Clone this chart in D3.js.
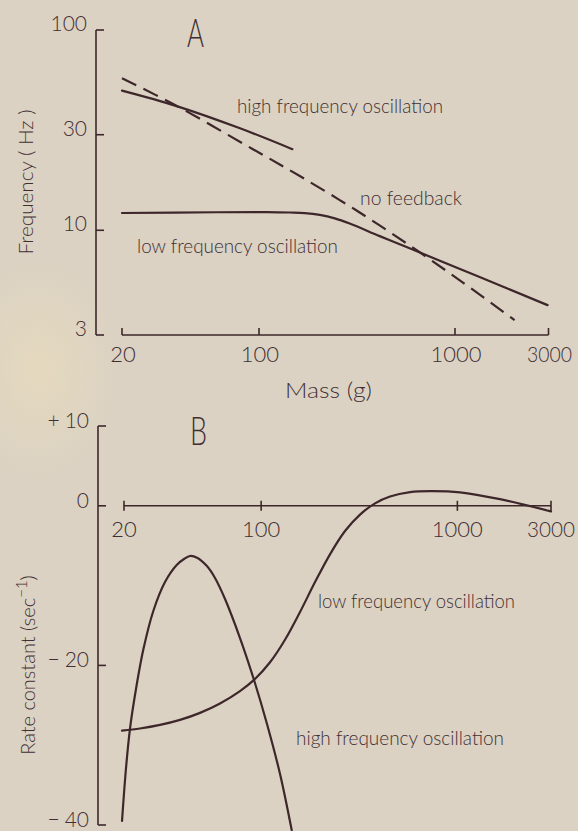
<!DOCTYPE html>
<html>
<head>
<meta charset="utf-8">
<script src="https://cdn.jsdelivr.net/npm/d3@7"></script>
<style>
  html, body { margin: 0; padding: 0; background: #dbd2c3; }
  svg { display: block; }
  text { font-family: 'Lato', 'DejaVu Sans Condensed', sans-serif; font-weight: 300; fill: #3f2f33; }
</style>
</head>
<body>
<svg id="fig" width="578" height="831"></svg>
<script>
// ---- Panel A: oscillation frequency against body mass (log-log) ----
const massTicks = [20, 100, 1000, 3000];
const freqTicks = [3, 10, 30, 100];

const hfMassA = [20, 38, 80, 148];
const hfFreqA = [49.8, 41.7, 32.3, 25.4];

const nfMass = [20, 37.3, 93.1, 161.5, 311.8, 599, 1107, 2014];
const nfFreq = [57.4, 42.2, 25.4, 18.65, 12.62, 8.29, 5.45, 3.56];

const lfMassA = [20, 60, 110, 143.7, 171.3, 204.2, 243.7, 290.4, 413, 608.3, 1336, 2966];
const lfFreqA = [12.2, 12.3, 12.33, 12.27, 12.19, 11.94, 11.47, 10.80, 9.35, 8.01, 5.84, 4.23];

// ---- Panel B: rate constant against body mass ----
const rateTicks = [10, 0, -20, -40];
const rateTickLabels = ["+10", "0", "-20", "-40"];

const hfMassB = [19.54, 20.48, 21.46, 23.16, 25.09, 28.21, 32.36, 37.12, 40.44, 43.39, 47.11, 52.78, 58.19, 65.45, 78.02, 91.97, 107.1, 124.8, 143.1];
const hfRateB = [-39.50, -32.86, -27.91, -22.58, -18.01, -13.18, -9.55, -7.42, -6.67, -6.29, -6.50, -7.52, -9.04, -11.68, -16.57, -21.83, -27.34, -33.61, -40.63];

const lfMassB = [19.54, 24.13, 30.52, 38.59, 48.80, 61.70, 78.02, 91.97, 110.98, 132.3, 157.8, 188.2, 224.3, 267.5, 319.0, 380.4, 453.8, 573.8, 725.6, 1032, 1649, 3000];
const lfRateB = [-28.18, -27.91, -27.46, -26.83, -25.95, -24.77, -23.22, -21.82, -19.61, -16.79, -13.31, -9.56, -6.08, -3.16, -1.10, 0.31, 1.16, 1.71, 1.84, 1.69, 0.83, -0.70];

const INK = "#3d272b";
const svg = d3.select("#fig");

// paper tone
const defs = svg.append("defs");
const rg = defs.append("radialGradient").attr("id", "warm").attr("cx", 0.5).attr("cy", 0.5).attr("r", 0.5);
rg.append("stop").attr("offset", 0).attr("stop-color", "#e8dcbc").attr("stop-opacity", 0.75);
rg.append("stop").attr("offset", 1).attr("stop-color", "#e8dcbc").attr("stop-opacity", 0);
svg.append("rect").attr("width", 578).attr("height", 831).attr("fill", "#dbd2c3");
svg.append("ellipse").attr("cx", 38).attr("cy", 370).attr("rx", 80).attr("ry", 110).attr("fill", "url(#warm)");

function label(g, str, o) {
  const t = g.append("text")
    .attr("x", o.x).attr("y", o.y)
    .attr("font-size", o.size)
    .attr("text-anchor", o.anchor || "start")
    .text(str);
  if (o.width) t.attr("textLength", o.width).attr("lengthAdjust", "spacingAndGlyphs");
  return t;
}

const lineStyle = sel => sel.attr("fill", "none").attr("stroke", INK).attr("stroke-linecap", "round").attr("stroke-linejoin", "round");

// ================= Panel A =================
const xA = d3.scaleLog().domain([20, 3000]).range([122, 548.5]);
const yA = d3.scaleLog().domain([3, 100]).range([335, 30]);
const gA = svg.append("g");
const axA = 96;

// vertical axis with inward ticks
gA.append("line").attr("x1", axA).attr("x2", axA).attr("y1", yA(100)).attr("y2", yA(3))
  .attr("stroke", INK).attr("stroke-width", 1.6);
freqTicks.forEach(t => {
  gA.append("line").attr("x1", axA).attr("x2", axA + 8).attr("y1", yA(t)).attr("y2", yA(t))
    .attr("stroke", INK).attr("stroke-width", 1.6);
  label(gA, String(t), { x: 87, y: yA(t) + 1, size: 21, anchor: "end" });
});

// horizontal axis with upward ticks
gA.append("line").attr("x1", xA(20)).attr("x2", xA(3000)).attr("y1", 335).attr("y2", 335)
  .attr("stroke", INK).attr("stroke-width", 1.6);
massTicks.forEach(t => {
  gA.append("line").attr("x1", xA(t)).attr("x2", xA(t)).attr("y1", 335).attr("y2", 328)
    .attr("stroke", INK).attr("stroke-width", 1.6);
  label(gA, String(t), { x: xA(t) + 1, y: 362, size: 22, anchor: "middle", width: t === 3000 ? 45 : null });
});

label(gA, "Mass  (g)", { x: 285, y: 398, size: 21, width: 87 });
label(gA, "A", { x: 187, y: 47, size: 40, width: 17 });
gA.append("text").attr("transform", "translate(33,182) rotate(-90)")
  .attr("font-size", 20).attr("text-anchor", "middle")
  .attr("textLength", 145).attr("lengthAdjust", "spacingAndGlyphs")
  .text("Frequency  ( Hz )");

const lineA = d3.line().x(d => xA(d[0])).y(d => yA(d[1])).curve(d3.curveCatmullRom.alpha(0.5));
gA.append("path").attr("d", lineA(d3.zip(nfMass, nfFreq)))
  .call(lineStyle).attr("stroke-width", 2.2).attr("stroke-dasharray", "16,8").attr("stroke-linecap", "butt");
gA.append("path").attr("d", lineA(d3.zip(hfMassA, hfFreqA))).call(lineStyle).attr("stroke-width", 2.2);
gA.append("path").attr("d", lineA(d3.zip(lfMassA, lfFreqA))).call(lineStyle).attr("stroke-width", 2.2);

label(gA, "high frequency oscillation", { x: 237, y: 113, size: 20, width: 206 });
label(gA, "no feedback", { x: 360, y: 205, size: 20, width: 102 });
label(gA, "low frequency oscillation", { x: 137, y: 253, size: 20, width: 201 });

// ================= Panel B =================
const xB = d3.scaleLog().domain([20, 3000]).range([124, 551]);
const yB = d3.scaleLinear().domain([-40, 10]).range([825, 426]);
const gB = svg.append("g");
const axB = 98;

gB.append("line").attr("x1", axB).attr("x2", axB).attr("y1", yB(10)).attr("y2", yB(-40))
  .attr("stroke", INK).attr("stroke-width", 1.6);
rateTicks.forEach((t, i) => {
  gB.append("line").attr("x1", axB).attr("x2", axB + 8).attr("y1", yB(t)).attr("y2", yB(t))
    .attr("stroke", INK).attr("stroke-width", 1.6);
  const s = rateTickLabels[i];
  const tx = gB.append("text").attr("x", 89).attr("y", yB(t) + 2)
    .attr("font-size", 21).attr("text-anchor", "end");
  if (s[0] === "+" || s[0] === "-") {
    tx.append("tspan").text(s[0] === "-" ? "\u2212" : "+");
    tx.append("tspan").attr("dx", 5).text(s.slice(1));
  } else {
    tx.text(s);
  }
});

gB.append("line").attr("x1", xB(20)).attr("x2", xB(3000)).attr("y1", yB(0)).attr("y2", yB(0))
  .attr("stroke", INK).attr("stroke-width", 1.6);
massTicks.forEach(t => {
  gB.append("line").attr("x1", xB(t)).attr("x2", xB(t)).attr("y1", yB(0) - 5).attr("y2", yB(0) + 5)
    .attr("stroke", INK).attr("stroke-width", 1.6);
  label(gB, String(t), { x: xB(t), y: 537, size: 22, anchor: "middle", width: t === 3000 ? 48 : null });
});

label(gB, "B", { x: 190, y: 445, size: 40, width: 17 });
const rl = gB.append("text").attr("transform", "translate(35,665) rotate(-90)")
  .attr("font-size", 20).attr("text-anchor", "middle");
rl.append("tspan").text("Rate constant  (sec");
rl.append("tspan").attr("dy", -8).attr("font-size", 15).text("\u22121");
rl.append("tspan").attr("dy", 8).text(")");

const lineB = d3.line().x(d => xB(d[0])).y(d => yB(d[1])).curve(d3.curveCatmullRom.alpha(0.5));
gB.append("path").attr("d", lineB(d3.zip(lfMassB, lfRateB))).call(lineStyle).attr("stroke-width", 2.2);
gB.append("path").attr("d", lineB(d3.zip(hfMassB, hfRateB))).call(lineStyle).attr("stroke-width", 2.2);

label(gB, "low frequency oscillation", { x: 318, y: 608, size: 20, width: 197 });
label(gB, "high frequency oscillation", { x: 296, y: 745, size: 20, width: 208 });
</script>
</body>
</html>
